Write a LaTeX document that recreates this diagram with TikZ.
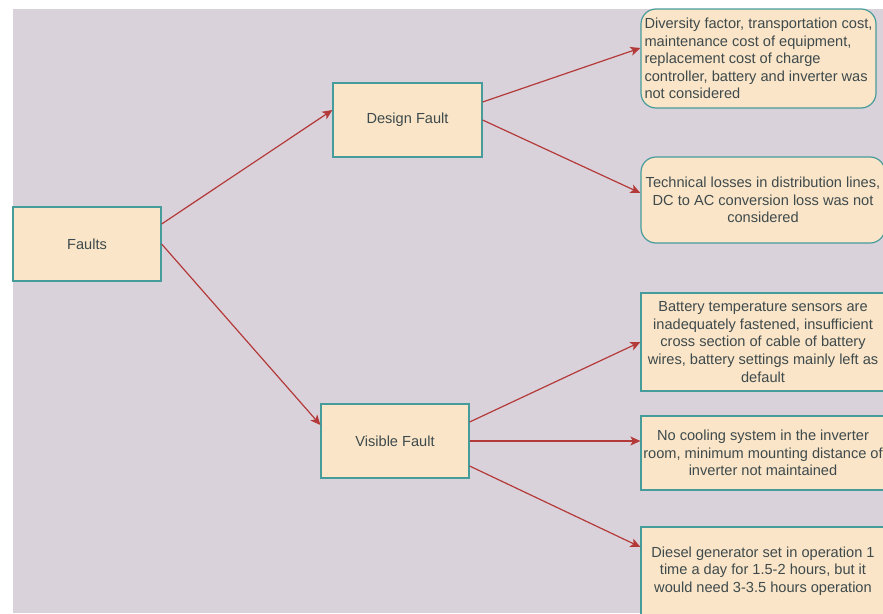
\documentclass[tikz,border=0pt]{standalone}
\usepackage{fontspec}
\setmainfont{Liberation Sans}
\usetikzlibrary{arrows.meta,positioning}
\definecolor{faultBack}{RGB}{218,210,218}
\definecolor{faultFill}{RGB}{250,229,200}
\definecolor{faultTeal}{RGB}{70,155,155}
\definecolor{faultRed}{RGB}{180,58,58}
\definecolor{faultText}{RGB}{62,74,76}
\tikzset{
  faultbox/.style={
    rectangle, draw=faultTeal, line width=1.2pt,
    fill=faultFill, text=faultText, align=center, inner sep=1pt,
    minimum width=148pt, minimum height=74pt,
    font=\fontsize{14.6}{17.6}\selectfont},
  notebox/.style={
    faultbox, minimum width=244pt},
  roundnote/.style={
    notebox, rounded corners=15pt},
  arrowline/.style={-{Stealth[length=10pt,width=9pt,inset=2.5pt]}, line width=1.2pt, draw=faultRed}
}
\begin{document}
\begin{tikzpicture}[x=1pt,y=-1pt]

    \useasboundingbox (0,0) rectangle (883,613);
    \fill[faultBack] (13,9) rectangle (883,613);

    % ---- root and the two fault kinds --------------------------
    \node[faultbox] (faults)  at (87,244)    {Faults};
    \node[faultbox, minimum width=149pt] (design) at (407.5,120) {Design Fault};
    \node[faultbox] (visible) at (395,441)   {Visible Fault};

    % ---- design fault notes ------------------------------------
    \node[roundnote, minimum width=235pt, minimum height=99pt, align=left] (divers) at (758.5,58.5)
      {Diversity factor, transportation cost,\\maintenance cost of equipment,\\replacement cost of charge\\controller, battery and inverter was\\not considered};
    \node[roundnote, minimum height=86pt] (losses) at (763,200)
      {Technical losses in distribution lines,\\DC to AC conversion loss was not\\considered};

    % ---- visible fault notes -----------------------------------
    \node[notebox, minimum height=98pt] (sensor) at (763,342)
      {Battery temperature sensors are\\inadequately fastened, insufficient\\cross section of cable of battery\\wires, battery settings mainly left as\\default};
    \node[notebox] (cooling) at (763,453)
      {No cooling system in the inverter\\room, minimum mounting distance of\\inverter not maintained};
    \node[notebox, minimum height=88pt] (diesel) at (763,571)
      {Diesel generator set in operation 1\\time a day for 1.5-2 hours, but it\\would need 3-3.5 hours operation};

    % ---- connectors --------------------------------------------
    \draw[arrowline] ([yshift=20pt]faults.east) -- ([yshift=10pt]design.west);
    \draw[arrowline] (faults.east) -- ([yshift=16pt]visible.west);

    \draw[arrowline] ([yshift=18pt]design.east) -- ([yshift=10.5pt]divers.west);
    \draw[arrowline] (design.east) -- ([yshift=7pt]losses.west);

    \draw[arrowline] ([yshift=19pt]visible.east) -- (sensor.west);
    \draw[arrowline] (visible.east) -- ([yshift=12pt]cooling.west);
    \draw[arrowline] ([yshift=-25pt]visible.east) -- ([yshift=24pt]diesel.west);

\end{tikzpicture}
\end{document}
